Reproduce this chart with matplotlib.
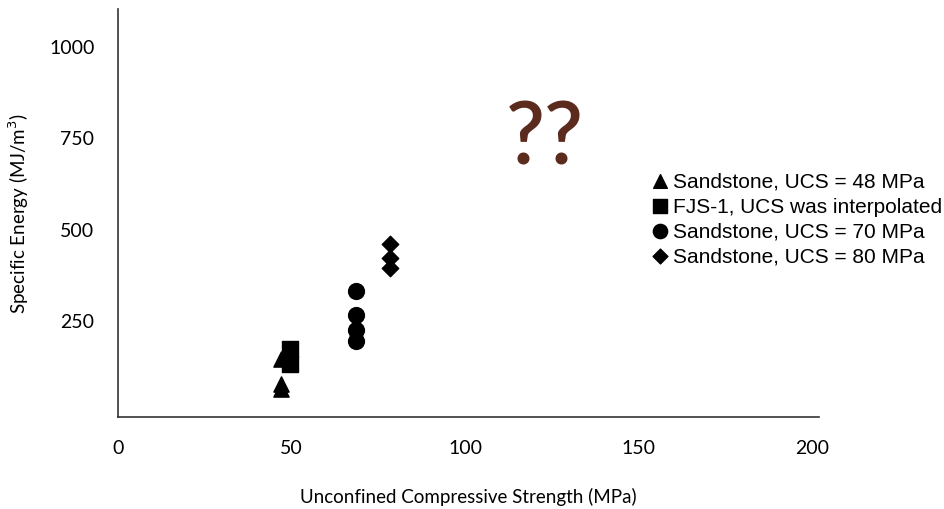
import numpy as np
import matplotlib.pyplot as plt

plt.switch_backend('agg')

# data
ucs_48 = [47, 47, 47]
se_48 = [60, 74, 142]
ucs_fjs = [49.5, 49.5]
se_fjs = [170, 129]
ucs_70 = [68.5, 68.5, 68.5, 68.5]
se_70 = [329, 263, 222, 192]
ucs_80 = [78.5, 78.5, 78.5]
se_80 = [458, 419, 392]

xticks = [0, 50, 100, 150, 200]
yticks = [250, 500, 750, 1000]

fig = plt.figure(figsize=(9.45, 5.1), dpi=100)
ax = fig.add_axes([0.1249, 0.1804, 0.7418, 0.7996])

k = 'black'
ax.scatter(ucs_48, se_48, marker='^', s=120, color=k, label='Sandstone, UCS = 48 MPa', zorder=3)
ax.scatter(ucs_fjs, se_fjs, marker='s', s=130, color=k, label='FJS-1, UCS was interpolated', zorder=3)
ax.scatter(ucs_70, se_70, marker='o', s=130, color=k, label='Sandstone, UCS = 70 MPa', zorder=3)
ax.scatter(ucs_80, se_80, marker='D', s=70, color=k, label='Sandstone, UCS = 80 MPa', zorder=3)

ax.set_xlim(0, 202)
ax.set_ylim(-16, 1101)
ax.set_xticks(xticks)
ax.set_yticks(yticks)
ax.tick_params(length=0, labelsize=14)
ax.tick_params(axis='y', pad=17)
ax.tick_params(axis='x', pad=16)
for lab in ax.get_xticklabels() + ax.get_yticklabels():
    lab.set_family('Lato')

ax.spines['top'].set_visible(False)
ax.spines['right'].set_visible(False)
for s in ['left', 'bottom']:
    ax.spines[s].set_color('#333333')
    ax.spines[s].set_linewidth(1.2)

ax.set_xlabel('Unconfined Compressive Strength (MPa)', family='Lato', fontsize=13.5, labelpad=22)
ax.set_ylabel('Specific Energy (MJ/m$^3$)', family='Lato', fontsize=13.5, labelpad=13)

ax.text(123, 746, '??', fontsize=62, color='#5b2b1d', family='Lato',
        fontweight='semibold', ha='center', va='center')

leg = ax.legend(loc='upper left', bbox_to_anchor=(0.745, 0.622), frameon=False,
                prop={'family': 'Liberation Sans', 'size': 15},
                handletextpad=0.05, labelspacing=0.28, borderaxespad=0,
                handlelength=1.1, markerscale=0.9)

plt.savefig('out.png', dpi=100)
